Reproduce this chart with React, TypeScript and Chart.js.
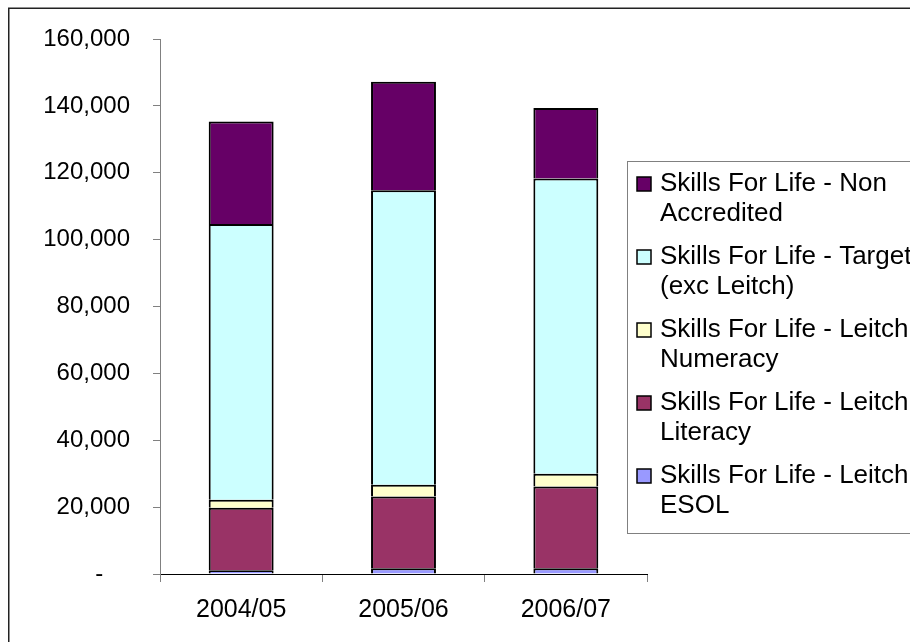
import React, { useEffect, useRef } from "react";
import { Chart, registerables } from "chart.js";

Chart.register(...registerables);

// Learner numbers by year, stacked by Skills For Life strand
const categories = ["2004/05", "2005/06", "2006/07"];
const esol = [1100, 1700, 1700];
const literacy = [18700, 21500, 24500];
const numeracy = [2400, 3500, 3800];
const target = [82500, 88100, 88300];
const nonAccredited = [30600, 32400, 21100];

const yMax = 160000;
const yStep = 20000;

// Legend text, wrapped the way it is shown
const esolLines = ["Skills For Life - Leitch", "ESOL"];
const literacyLines = ["Skills For Life - Leitch", "Literacy"];
const numeracyLines = ["Skills For Life - Leitch", "Numeracy"];
const targetLines = ["Skills For Life - Target", "(exc Leitch)"];
const nonAccreditedLines = ["Skills For Life - Non", "Accredited"];

const FONT = "'Liberation Sans', Arial, Helvetica, sans-serif";

// accounting-style format: zero shows as a dash
const formatTick = (v: number) => (v === 0 ? "-    " : v.toLocaleString("en-US"));

// Frame around the whole chart and the boxed legend on the right
const framePlugin = {
  id: "frameAndLegend",
  afterDraw(chart: any) {
    const ctx = chart.ctx as CanvasRenderingContext2D;
    ctx.save();
    ctx.strokeStyle = "#222";
    ctx.lineWidth = 1.5;
    ctx.strokeRect(8.75, 8.25, 1000, 1000);

    // legend box
    const boxX = 627.5;
    const boxY = 161.5;
    ctx.strokeStyle = "#808080";
    ctx.lineWidth = 1;
    ctx.strokeRect(boxX, boxY, 400, 372);

    const datasets = chart.data.datasets.slice().reverse();
    const itemGap = 73;
    const lineGap = 30;
    const firstY = 184;
    ctx.font = `26px ${FONT}`;
    ctx.textBaseline = "middle";
    ctx.textAlign = "left";
    datasets.forEach((ds: any, i: number) => {
      const y = firstY + i * itemGap;
      ctx.fillStyle = ds.backgroundColor;
      ctx.fillRect(637, y - 7, 14, 14);
      ctx.strokeStyle = "#000";
      ctx.lineWidth = 1.5;
      ctx.strokeRect(637, y - 7, 14, 14);
      ctx.fillStyle = "#000";
      (ds.legendLines as string[]).forEach((line, j) => {
        ctx.fillText(line, 660, y + j * lineGap);
      });
    });
    ctx.restore();
  },
};

export default function App() {
  const canvasRef = useRef<HTMLCanvasElement | null>(null);

  useEffect(() => {
    if (!canvasRef.current) return;
    const mk = (label: string[], data: number[], color: string) => ({
      label: label.join(" "),
      legendLines: label,
      data,
      backgroundColor: color,
      borderColor: "#000",
      borderWidth: 2,
      categoryPercentage: 1,
      barPercentage: 0.4,
    });
    const chart = new Chart(canvasRef.current, {
      type: "bar",
      data: {
        labels: categories,
        datasets: [
          mk(esolLines, esol, "#9999FF"),
          mk(literacyLines, literacy, "#993366"),
          mk(numeracyLines, numeracy, "#FFFFCC"),
          mk(targetLines, target, "#CCFFFF"),
          mk(nonAccreditedLines, nonAccredited, "#660066"),
        ] as any,
      },
      options: {
        animation: false,
        responsive: false,
        maintainAspectRatio: false,
        layout: { padding: { top: 39, right: 263, bottom: 0, left: 0 } },
        plugins: {
          legend: { display: false },
          tooltip: { enabled: false },
        },
        scales: {
          x: {
            stacked: true,
            afterFit: (s: any) => {
              s.height = 68;
            },
            grid: {
              display: true,
              drawOnChartArea: false,
              drawTicks: true,
              tickLength: 8,
              color: "#808080",
              offset: true,
            },
            border: { display: true, color: "#000", width: 1 },
            ticks: {
              color: "#000",
              padding: 13,
              font: { family: FONT, size: 25 },
              maxRotation: 0,
            },
          },
          y: {
            stacked: true,
            min: 0,
            max: yMax,
            afterFit: (s: any) => {
              s.width = 160;
            },
            grid: {
              display: true,
              drawOnChartArea: false,
              drawTicks: true,
              tickLength: 7,
              color: "#808080",
            },
            border: { display: true, color: "#808080", width: 1 },
            ticks: {
              stepSize: yStep,
              color: "#000",
              padding: 23,
              font: { family: FONT, size: 24 },
              callback: (v: any) => formatTick(Number(v)),
            },
          },
        },
      },
      plugins: [framePlugin],
    });
    return () => chart.destroy();
  }, []);

  return (
    <div style={{ position: "absolute", left: 0, top: 0, width: 910, height: 642, background: "#fff" }}>
      <canvas ref={canvasRef} width={910} height={642} style={{ display: "block" }} />
    </div>
  );
}
